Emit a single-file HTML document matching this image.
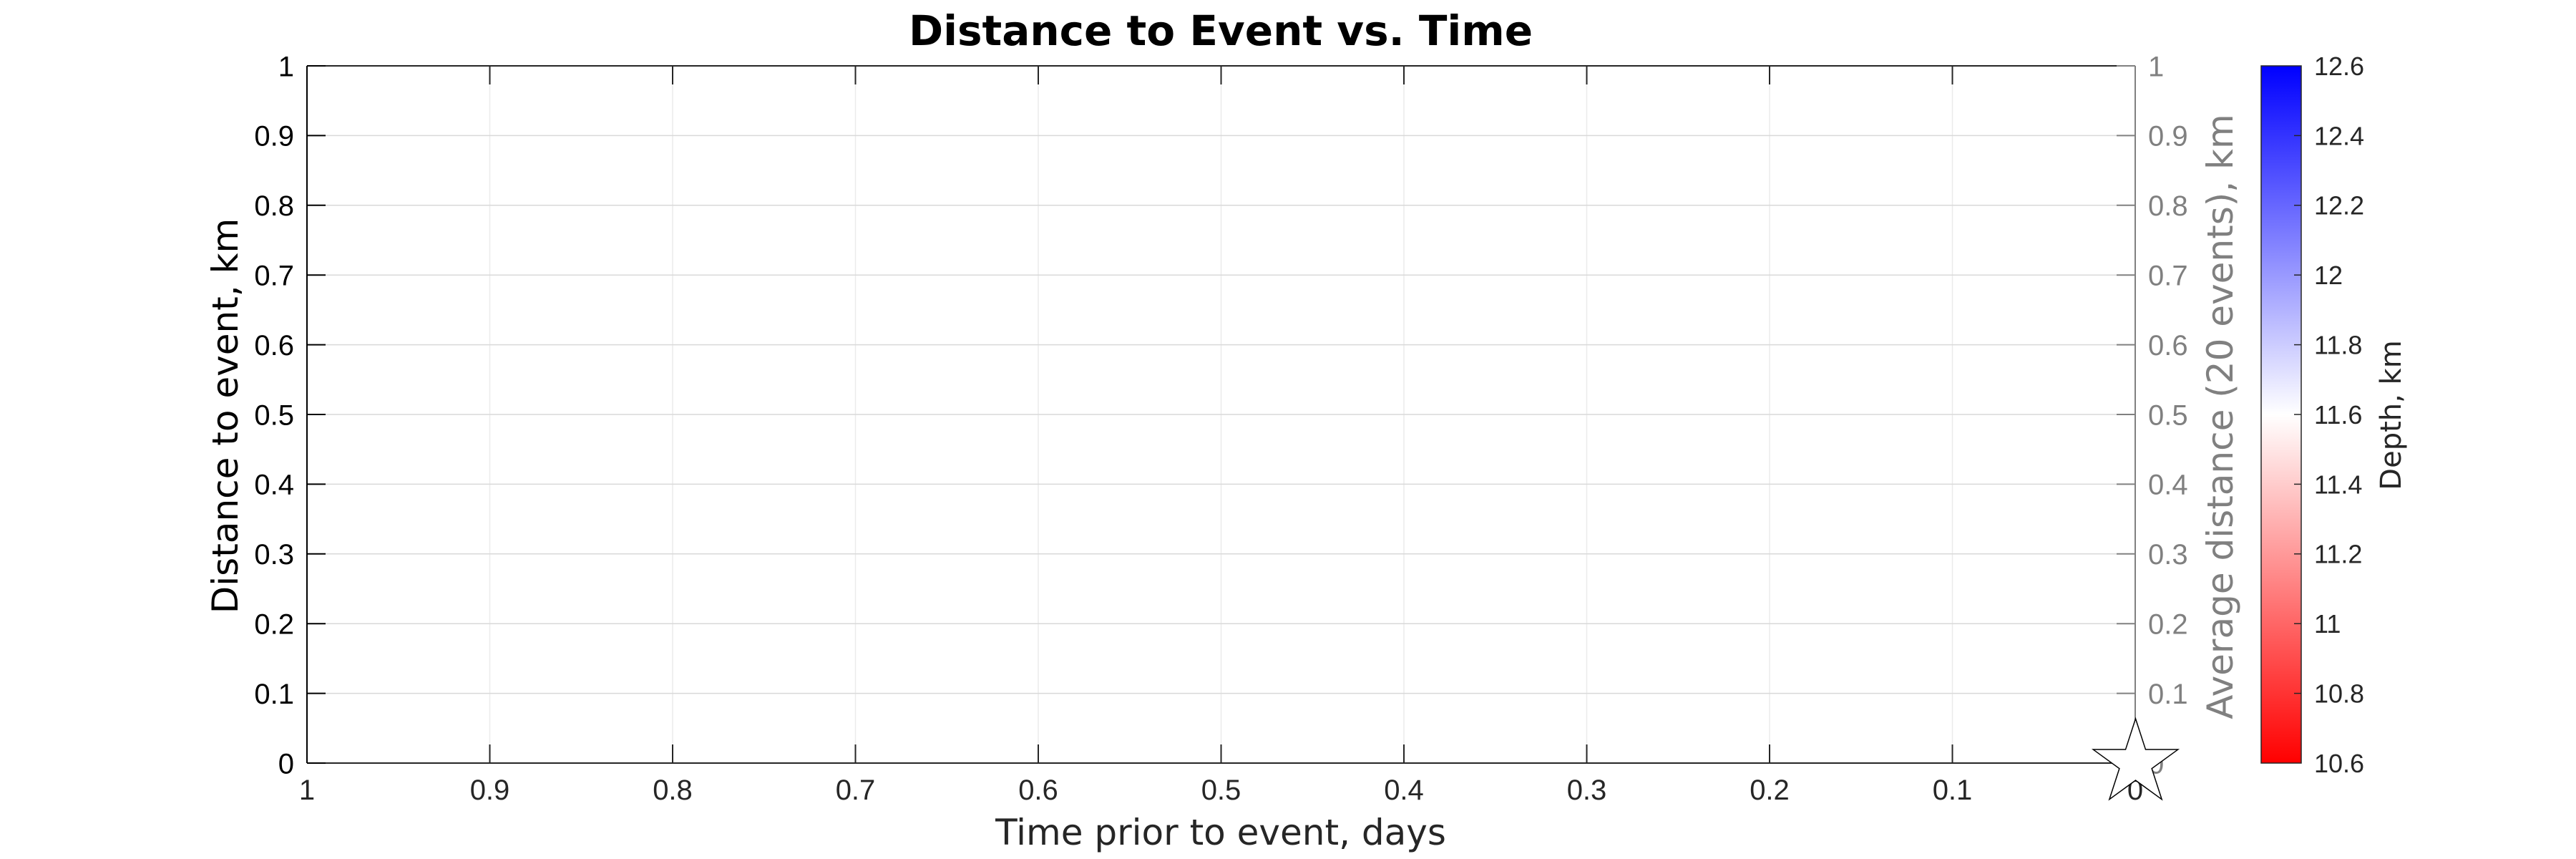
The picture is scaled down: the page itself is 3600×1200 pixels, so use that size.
<!DOCTYPE html>
<html>
<head>
<meta charset="utf-8">
<style>
  html, body { margin: 0; padding: 0; background: #ffffff; }
  svg { display: block; }
</style>
</head>
<body>
<svg xmlns="http://www.w3.org/2000/svg" width="3600" height="1200" viewBox="0 0 3600 1200">
  <defs>
    <linearGradient id="cb" x1="0" y1="0" x2="0" y2="1">
      <stop offset="0" stop-color="#0000ff"/>
      <stop offset="0.5" stop-color="#ffffff"/>
      <stop offset="1" stop-color="#ff0000"/>
    </linearGradient>
  </defs>
  <rect x="0" y="0" width="3600" height="1200" fill="#ffffff"/>

  <!-- Title -->
  <text x="1706" y="63" text-anchor="middle" font-family="DejaVu Sans, sans-serif" font-weight="bold" font-size="58" fill="#000">Distance to Event vs. Time</text>

  <!-- Grid: vertical -->
  <g stroke="#ebebeb" stroke-width="1.5">
    <line x1="684.5" y1="92" x2="684.5" y2="1066"/>
    <line x1="940" y1="92" x2="940" y2="1066"/>
    <line x1="1195.5" y1="92" x2="1195.5" y2="1066"/>
    <line x1="1451" y1="92" x2="1451" y2="1066"/>
    <line x1="1706.5" y1="92" x2="1706.5" y2="1066"/>
    <line x1="1962" y1="92" x2="1962" y2="1066"/>
    <line x1="2217.5" y1="92" x2="2217.5" y2="1066"/>
    <line x1="2473" y1="92" x2="2473" y2="1066"/>
    <line x1="2728.5" y1="92" x2="2728.5" y2="1066"/>
  </g>
  <!-- Grid: horizontal -->
  <g stroke="#d9d9d9" stroke-width="1.5">
    <line x1="429" y1="189.4" x2="2984" y2="189.4"/>
    <line x1="429" y1="286.8" x2="2984" y2="286.8"/>
    <line x1="429" y1="384.2" x2="2984" y2="384.2"/>
    <line x1="429" y1="481.6" x2="2984" y2="481.6"/>
    <line x1="429" y1="579" x2="2984" y2="579"/>
    <line x1="429" y1="676.4" x2="2984" y2="676.4"/>
    <line x1="429" y1="773.8" x2="2984" y2="773.8"/>
    <line x1="429" y1="871.2" x2="2984" y2="871.2"/>
    <line x1="429" y1="968.6" x2="2984" y2="968.6"/>
  </g>

  <!-- Axes box -->
  <g stroke="#262626" stroke-width="2" fill="none">
    <line x1="429" y1="92" x2="2984" y2="92"/>
    <line x1="429" y1="1066" x2="2984" y2="1066"/>
  </g>
  <line x1="429" y1="92" x2="429" y2="1066" stroke="#000" stroke-width="2"/>
  <line x1="2984" y1="92" x2="2984" y2="1066" stroke="#808080" stroke-width="2"/>

  <!-- X ticks bottom & top -->
  <g stroke="#262626" stroke-width="2">
    <line x1="684.5" y1="1066" x2="684.5" y2="1040"/><line x1="684.5" y1="92" x2="684.5" y2="118"/>
    <line x1="940" y1="1066" x2="940" y2="1040"/><line x1="940" y1="92" x2="940" y2="118"/>
    <line x1="1195.5" y1="1066" x2="1195.5" y2="1040"/><line x1="1195.5" y1="92" x2="1195.5" y2="118"/>
    <line x1="1451" y1="1066" x2="1451" y2="1040"/><line x1="1451" y1="92" x2="1451" y2="118"/>
    <line x1="1706.5" y1="1066" x2="1706.5" y2="1040"/><line x1="1706.5" y1="92" x2="1706.5" y2="118"/>
    <line x1="1962" y1="1066" x2="1962" y2="1040"/><line x1="1962" y1="92" x2="1962" y2="118"/>
    <line x1="2217.5" y1="1066" x2="2217.5" y2="1040"/><line x1="2217.5" y1="92" x2="2217.5" y2="118"/>
    <line x1="2473" y1="1066" x2="2473" y2="1040"/><line x1="2473" y1="92" x2="2473" y2="118"/>
    <line x1="2728.5" y1="1066" x2="2728.5" y2="1040"/><line x1="2728.5" y1="92" x2="2728.5" y2="118"/>
  </g>

  <!-- Left Y ticks -->
  <g stroke="#000" stroke-width="2">
    <line x1="429" y1="92" x2="455" y2="92"/>
    <line x1="429" y1="189.4" x2="455" y2="189.4"/>
    <line x1="429" y1="286.8" x2="455" y2="286.8"/>
    <line x1="429" y1="384.2" x2="455" y2="384.2"/>
    <line x1="429" y1="481.6" x2="455" y2="481.6"/>
    <line x1="429" y1="579" x2="455" y2="579"/>
    <line x1="429" y1="676.4" x2="455" y2="676.4"/>
    <line x1="429" y1="773.8" x2="455" y2="773.8"/>
    <line x1="429" y1="871.2" x2="455" y2="871.2"/>
    <line x1="429" y1="968.6" x2="455" y2="968.6"/>
    <line x1="429" y1="1066" x2="455" y2="1066"/>
  </g>
  <!-- Right Y ticks -->
  <g stroke="#808080" stroke-width="2">
    <line x1="2958" y1="92" x2="2984" y2="92"/>
    <line x1="2958" y1="189.4" x2="2984" y2="189.4"/>
    <line x1="2958" y1="286.8" x2="2984" y2="286.8"/>
    <line x1="2958" y1="384.2" x2="2984" y2="384.2"/>
    <line x1="2958" y1="481.6" x2="2984" y2="481.6"/>
    <line x1="2958" y1="579" x2="2984" y2="579"/>
    <line x1="2958" y1="676.4" x2="2984" y2="676.4"/>
    <line x1="2958" y1="773.8" x2="2984" y2="773.8"/>
    <line x1="2958" y1="871.2" x2="2984" y2="871.2"/>
    <line x1="2958" y1="968.6" x2="2984" y2="968.6"/>
    <line x1="2958" y1="1066" x2="2984" y2="1066"/>
  </g>

  <!-- Left Y tick labels -->
  <g font-family="Liberation Sans, Arial, sans-serif" font-size="40" fill="#000" text-anchor="end">
    <text x="411" y="106.3">1</text>
    <text x="411" y="203.7">0.9</text>
    <text x="411" y="301.1">0.8</text>
    <text x="411" y="398.5">0.7</text>
    <text x="411" y="495.9">0.6</text>
    <text x="411" y="593.3">0.5</text>
    <text x="411" y="690.7">0.4</text>
    <text x="411" y="788.1">0.3</text>
    <text x="411" y="885.5">0.2</text>
    <text x="411" y="982.9">0.1</text>
    <text x="411" y="1080.3">0</text>
  </g>

  <!-- Right Y tick labels -->
  <g font-family="Liberation Sans, Arial, sans-serif" font-size="40" fill="#808080" text-anchor="start">
    <text x="3002" y="106.3">1</text>
    <text x="3002" y="203.7">0.9</text>
    <text x="3002" y="301.1">0.8</text>
    <text x="3002" y="398.5">0.7</text>
    <text x="3002" y="495.9">0.6</text>
    <text x="3002" y="593.3">0.5</text>
    <text x="3002" y="690.7">0.4</text>
    <text x="3002" y="788.1">0.3</text>
    <text x="3002" y="885.5">0.2</text>
    <text x="3002" y="982.9">0.1</text>
    <text x="3002" y="1080.3">0</text>
  </g>

  <!-- X tick labels -->
  <g font-family="Liberation Sans, Arial, sans-serif" font-size="40" fill="#262626" text-anchor="middle">
    <text x="429" y="1117">1</text>
    <text x="684.5" y="1117">0.9</text>
    <text x="940" y="1117">0.8</text>
    <text x="1195.5" y="1117">0.7</text>
    <text x="1451" y="1117">0.6</text>
    <text x="1706.5" y="1117">0.5</text>
    <text x="1962" y="1117">0.4</text>
    <text x="2217.5" y="1117">0.3</text>
    <text x="2473" y="1117">0.2</text>
    <text x="2728.5" y="1117">0.1</text>
    <text x="2984" y="1117">0</text>
  </g>

  <!-- Axis labels -->
  <text x="1706" y="1180" text-anchor="middle" font-family="DejaVu Sans, sans-serif" font-size="50" fill="#262626">Time prior to event, days</text>
  <text transform="translate(332,581) rotate(-90)" text-anchor="middle" font-family="DejaVu Sans, sans-serif" font-size="50" fill="#000">Distance to event, km</text>
  <text transform="translate(3120,582) rotate(-90)" text-anchor="middle" font-family="DejaVu Sans, sans-serif" font-size="50" fill="#808080">Average distance (20 events), km</text>

  <!-- Colorbar -->
  <rect x="3160" y="92" width="56" height="974" fill="url(#cb)" stroke="#262626" stroke-width="1.5"/>
  <g stroke="#262626" stroke-width="1.5">
    <line x1="3206" y1="189.4" x2="3216" y2="189.4"/>
    <line x1="3206" y1="286.8" x2="3216" y2="286.8"/>
    <line x1="3206" y1="384.2" x2="3216" y2="384.2"/>
    <line x1="3206" y1="481.6" x2="3216" y2="481.6"/>
    <line x1="3206" y1="579" x2="3216" y2="579"/>
    <line x1="3206" y1="676.4" x2="3216" y2="676.4"/>
    <line x1="3206" y1="773.8" x2="3216" y2="773.8"/>
    <line x1="3206" y1="871.2" x2="3216" y2="871.2"/>
    <line x1="3206" y1="968.6" x2="3216" y2="968.6"/>
  </g>
  <g font-family="Liberation Sans, Arial, sans-serif" font-size="36" fill="#262626" text-anchor="start">
    <text x="3234" y="104.9">12.6</text>
    <text x="3234" y="202.3">12.4</text>
    <text x="3234" y="299.7">12.2</text>
    <text x="3234" y="397.1">12</text>
    <text x="3234" y="494.5">11.8</text>
    <text x="3234" y="591.9">11.6</text>
    <text x="3234" y="689.3">11.4</text>
    <text x="3234" y="786.7">11.2</text>
    <text x="3234" y="884.1">11</text>
    <text x="3234" y="981.5">10.8</text>
    <text x="3234" y="1078.9">10.6</text>
  </g>
  <text transform="translate(3355,580) rotate(-90)" text-anchor="middle" font-family="DejaVu Sans, sans-serif" font-size="40" fill="#262626">Depth, km</text>

  <!-- Star marker -->
  <polygon points="2984.5,1004 2998.49,1047.05 3043.75,1047.05 3007.14,1073.65 3021.12,1116.7 2984.5,1090.1 2947.88,1116.7 2961.86,1073.65 2925.25,1047.05 2970.51,1047.05" fill="#ffffff" stroke="#000" stroke-width="1.5" stroke-linejoin="miter"/>
</svg>
</body>
</html>
